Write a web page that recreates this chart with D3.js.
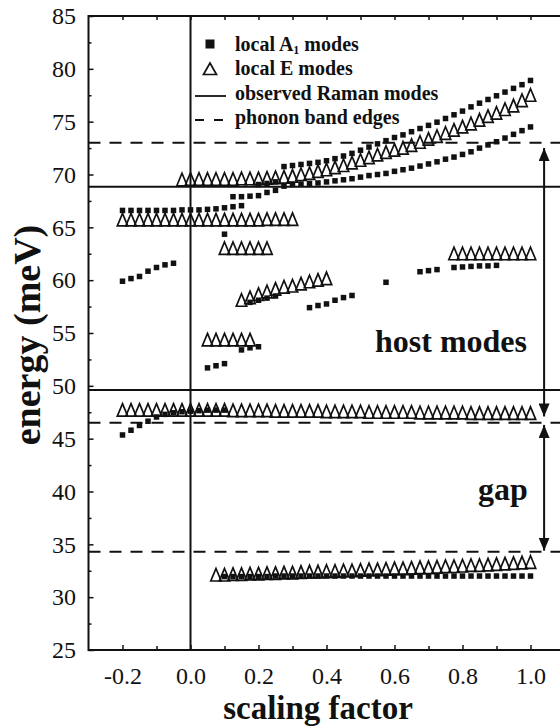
<!DOCTYPE html>
<html>
<head>
<meta charset="utf-8">
<script src="https://cdn.jsdelivr.net/npm/d3@7"></script>
<style>
  body { margin: 0; background: #fff; }
  svg { display: block; }
  text { font-family: "Liberation Serif", "Times New Roman", serif; fill: #111; }
</style>
</head>
<body>
<div id="viz"></div>
<script>
// ---- data: [scaling factor, energy meV] ----
const a1Top = [[0.2,69.05],[0.225,69.15],[0.25,69.3],[0.275,70.75],[0.3,70.85],[0.325,70.95],[0.35,71.05],[0.375,71.15],[0.4,71.3],[0.425,71.5],[0.45,71.75],[0.475,72.0],[0.5,72.3],[0.525,72.6],[0.55,72.9],[0.575,73.2],[0.6,73.5],[0.625,73.75],[0.65,74.05],[0.675,74.35],[0.7,74.65],[0.725,74.95],[0.75,75.3],[0.775,75.65],[0.8,76.0],[0.825,76.4],[0.85,76.75],[0.875,77.1],[0.9,77.45],[0.925,77.8],[0.95,78.15],[0.975,78.5],[1.0,78.9]];
const a1Mid = [[0.125,67.9],[0.15,67.9],[0.175,67.95],[0.2,68.0],[0.225,68.3],[0.25,68.5],[0.275,68.9],[0.3,69.05],[0.325,69.1],[0.35,69.15],[0.375,69.2],[0.4,69.3],[0.425,69.4],[0.45,69.5],[0.475,69.6],[0.5,69.75],[0.525,69.9],[0.55,70.0],[0.575,70.1],[0.6,70.3],[0.625,70.45],[0.65,70.6],[0.675,70.8],[0.7,71.0],[0.725,71.2],[0.75,71.45],[0.775,71.65],[0.8,71.9],[0.825,72.15],[0.85,72.5],[0.875,72.8],[0.9,73.1],[0.925,73.45],[0.95,73.8],[0.975,74.15],[1.0,74.5]];
const a1Left66 = [[-0.2,66.6],[-0.175,66.6],[-0.15,66.6],[-0.125,66.6],[-0.1,66.6],[-0.075,66.6],[-0.05,66.6],[-0.025,66.65],[0,66.65],[0.025,66.65],[0.05,66.7],[0.075,66.75],[0.1,66.85],[0.125,66.95],[0.15,67.05]];
const a1Single64 = [[0.1,64.35]];
const a1Left60 = [[-0.2,59.9],[-0.175,60.15],[-0.15,60.35],[-0.125,60.85],[-0.1,61.2],[-0.075,61.45],[-0.05,61.6]];
const a1Low52 = [[0.05,51.7],[0.075,51.9],[0.1,52.1]];
const a1Low53 = [[0.15,53.4],[0.175,53.6],[0.2,53.7]];
const a1Mid58 = [[0.175,57.9],[0.2,58.1],[0.225,58.3],[0.25,58.5]];
const a1Mid57 = [[0.35,57.4],[0.375,57.6],[0.4,57.75],[0.425,58.1],[0.45,58.35],[0.475,58.55]];
const a1Single60 = [[0.575,59.8]];
const a1Right61 = [[0.675,60.8],[0.7,60.9],[0.725,61.0]];
const a1Right615 = [[0.775,61.2],[0.8,61.25],[0.825,61.3],[0.85,61.35],[0.875,61.35],[0.9,61.4]];
const a1Gap = [[-0.2,45.35],[-0.175,45.8],[-0.15,46.25],[-0.125,46.65],[-0.1,47.05],[-0.075,47.3],[-0.05,47.45],[-0.025,47.55],[0,47.6],[0.025,47.65],[0.05,47.7],[0.075,47.7],[0.1,47.7]];
const a1Bottom = [[0.1,31.95],[0.125,31.95],[0.15,31.95],[0.175,31.95],[0.2,31.95],[0.225,31.95],[0.25,32.0],[0.275,32.0],[0.3,32.0],[0.325,32.0],[0.35,32.0],[0.375,32.0],[0.4,32.0],[0.425,32.0],[0.45,32.0],[0.475,32.0],[0.5,32.0],[0.525,32.0],[0.55,32.0],[0.575,32.0],[0.6,32.0],[0.625,32.0],[0.65,32.0],[0.675,32.0],[0.7,32.0],[0.725,32.0],[0.75,32.0],[0.775,32.0],[0.8,32.0],[0.825,32.0],[0.85,32.0],[0.875,32.0],[0.9,32.0],[0.925,32.0],[0.95,32.0],[0.975,32.0],[1.0,32.0]];

const eTop = [[-0.025,69.5],[0,69.55],[0.025,69.55],[0.05,69.55],[0.075,69.55],[0.1,69.55],[0.125,69.55],[0.15,69.6],[0.175,69.6],[0.2,69.6],[0.225,69.65],[0.25,69.7],[0.275,69.75],[0.3,69.85],[0.325,70.0],[0.35,70.1],[0.375,70.3],[0.4,70.45],[0.425,70.65],[0.45,70.85],[0.475,71.1],[0.5,71.35],[0.525,71.6],[0.55,71.85],[0.575,72.1],[0.6,72.3],[0.625,72.5],[0.65,72.75],[0.675,73.05],[0.7,73.35],[0.725,73.6],[0.75,73.9],[0.775,74.2],[0.8,74.5],[0.825,74.8],[0.85,75.15],[0.875,75.5],[0.9,75.8],[0.925,76.15],[0.95,76.5],[0.975,77.0],[1.0,77.5]];
const e66 = [[-0.2,65.7],[-0.175,65.7],[-0.15,65.7],[-0.125,65.7],[-0.1,65.7],[-0.075,65.7],[-0.05,65.7],[-0.025,65.7],[0,65.7],[0.025,65.7],[0.05,65.7],[0.075,65.7],[0.1,65.7],[0.125,65.7],[0.15,65.7],[0.175,65.7],[0.2,65.7],[0.225,65.75],[0.25,65.75],[0.275,65.75],[0.3,65.75]];
const e63 = [[0.1,63.0],[0.125,63.0],[0.15,63.0],[0.175,63.0],[0.2,63.0],[0.225,63.0]];
const e58 = [[0.15,58.1],[0.175,58.35],[0.2,58.65],[0.225,58.9],[0.25,59.15],[0.275,59.35],[0.3,59.45],[0.325,59.65],[0.35,59.85],[0.375,60.0],[0.4,60.15]];
const e54 = [[0.05,54.35],[0.075,54.35],[0.1,54.35],[0.125,54.35],[0.15,54.35],[0.175,54.35]];
const e62 = [[0.775,62.5],[0.8,62.5],[0.825,62.5],[0.85,62.5],[0.875,62.5],[0.9,62.5],[0.925,62.5],[0.95,62.5],[0.975,62.5],[1.0,62.5]];
const e47 = [[-0.2,47.7],[-0.175,47.7],[-0.15,47.7],[-0.125,47.7],[-0.1,47.7],[-0.075,47.7],[-0.05,47.7],[-0.025,47.7],[0,47.7],[0.025,47.7],[0.05,47.7],[0.075,47.7],[0.1,47.7],[0.125,47.65],[0.15,47.65],[0.175,47.65],[0.2,47.65],[0.225,47.65],[0.25,47.6],[0.275,47.6],[0.3,47.6],[0.325,47.6],[0.35,47.6],[0.375,47.6],[0.4,47.55],[0.425,47.55],[0.45,47.55],[0.475,47.55],[0.5,47.55],[0.525,47.5],[0.55,47.5],[0.575,47.5],[0.6,47.5],[0.625,47.5],[0.65,47.5],[0.675,47.45],[0.7,47.45],[0.725,47.45],[0.75,47.45],[0.775,47.45],[0.8,47.45],[0.825,47.4],[0.85,47.4],[0.875,47.4],[0.9,47.4],[0.925,47.4],[0.95,47.4],[0.975,47.4],[1.0,47.4]];
const eBottom = [[0.075,32.1],[0.1,32.1],[0.125,32.15],[0.15,32.15],[0.175,32.2],[0.2,32.2],[0.225,32.25],[0.25,32.25],[0.275,32.3],[0.3,32.3],[0.325,32.35],[0.35,32.4],[0.375,32.4],[0.4,32.45],[0.425,32.45],[0.45,32.5],[0.475,32.5],[0.5,32.55],[0.525,32.6],[0.55,32.6],[0.575,32.65],[0.6,32.7],[0.625,32.7],[0.65,32.75],[0.675,32.8],[0.7,32.8],[0.725,32.85],[0.75,32.9],[0.775,32.9],[0.8,32.95],[0.825,33.0],[0.85,33.0],[0.875,33.05],[0.9,33.1],[0.925,33.15],[0.95,33.2],[0.975,33.25],[1.0,33.3]];

const ramanModes = [68.85, 49.6];        // solid lines
const bandEdges = [73.0, 46.5, 34.3];    // dashed lines
const arrowX = 1.04;
const xTickLabels = [-0.2, 0.0, 0.2, 0.4, 0.6, 0.8, 1.0];
const xTickMinor = [-0.1, 0.1, 0.3, 0.5, 0.7, 0.9];
const yTickLabels = [25, 30, 35, 40, 45, 50, 55, 60, 65, 70, 75, 80, 85];
const yTickMinor = [27.5, 32.5, 37.5, 42.5, 47.5, 52.5, 57.5, 62.5, 67.5, 72.5, 77.5, 82.5];

const a1Series = [a1Top, a1Mid, a1Left66, a1Single64, a1Left60, a1Low52, a1Low53, a1Mid58,
  a1Mid57, a1Single60, a1Right61, a1Right615, a1Gap, a1Bottom];
const eSeries = [eTop, e66, e63, e58, e54, e62, e47, eBottom];

const w = 560, h = 728;
const svg = d3.select("#viz").append("svg")
  .attr("width", w).attr("height", h)
  .attr("viewBox", "0 0 560 728");

const x = d3.scaleLinear().domain([-0.3, 1.1]).range([88.5, 564.5]);
const y = d3.scaleLinear().domain([25, 85]).range([650, 16]);
const L = x(-0.3), R = x(1.1), T = y(85), B = y(25);

// axes with inward ticks
const fmt = d => d.toFixed(1);
const ax = (g, axis) => {
  g.call(axis);
  g.attr("font-family", "Liberation Serif").attr("font-size", 24);
  g.select(".domain").remove();
  g.selectAll(".tick line").attr("stroke", "#111").attr("stroke-width", 1.5);
};
svg.append("g").attr("transform", `translate(0,${B})`)
  .call(g => ax(g, d3.axisBottom(x).tickValues(xTickLabels).tickFormat(fmt).tickSize(-5).tickPadding(17)));
svg.append("g").attr("transform", `translate(0,${B})`)
  .call(g => ax(g, d3.axisBottom(x).tickValues(xTickMinor).tickFormat("").tickSize(-4)));
svg.append("g").attr("transform", `translate(0,${T})`)
  .call(g => ax(g, d3.axisTop(x).tickValues(xTickLabels.concat(xTickMinor)).tickFormat("").tickSize(-4)));
svg.append("g").attr("transform", `translate(${L},0)`)
  .call(g => ax(g, d3.axisLeft(y).tickValues(yTickLabels).tickSize(-5).tickPadding(12.5)));
svg.append("g").attr("transform", `translate(${L},0)`)
  .call(g => ax(g, d3.axisLeft(y).tickValues(yTickMinor).tickFormat("").tickSize(-3)));
svg.append("g").attr("transform", `translate(${R},0)`)
  .call(g => ax(g, d3.axisRight(y).tickValues(yTickLabels.concat(yTickMinor)).tickFormat("").tickSize(-4)));

// frame
svg.append("rect").attr("x", L).attr("y", T).attr("width", R - L).attr("height", B - T)
  .attr("fill", "none").attr("stroke", "#111").attr("stroke-width", 2);

// vertical line at 0
svg.append("line").attr("x1", x(0)).attr("x2", x(0)).attr("y1", T).attr("y2", B)
  .attr("stroke", "#111").attr("stroke-width", 2);

svg.selectAll(".raman").data(ramanModes).enter().append("line")
  .attr("x1", L).attr("x2", w).attr("y1", d => y(d)).attr("y2", d => y(d))
  .attr("stroke", "#111").attr("stroke-width", 2);
svg.selectAll(".edge").data(bandEdges).enter().append("line")
  .attr("x1", L).attr("x2", w).attr("y1", d => y(d)).attr("y2", d => y(d))
  .attr("stroke", "#111").attr("stroke-width", 2).attr("stroke-dasharray", "12,9");

// arrows
const defs = svg.append("defs");
defs.append("marker").attr("id", "ah").attr("viewBox", "0 0 10 10")
  .attr("refX", 10).attr("refY", 5).attr("markerWidth", 13).attr("markerHeight", 11)
  .attr("markerUnits", "userSpaceOnUse").attr("orient", "auto-start-reverse")
  .attr("preserveAspectRatio", "none")
  .append("path").attr("d", "M0,0 L10,5 L0,10 Z").attr("fill", "#111");
const arrows = [[bandEdges[0] - 0.5, bandEdges[1] + 0.6], [bandEdges[1] - 0.2, bandEdges[2] + 0.1]];
svg.selectAll(".arrow").data(arrows).enter().append("line")
  .attr("x1", x(arrowX)).attr("x2", x(arrowX))
  .attr("y1", d => y(d[0])).attr("y2", d => y(d[1]))
  .attr("stroke", "#111").attr("stroke-width", 2)
  .attr("marker-start", "url(#ah)").attr("marker-end", "url(#ah)");

// E modes: open triangles
const tri = "M0,-6.5 L5.2,6 L-5.2,6 Z";
eSeries.forEach(s => {
  svg.append("g").selectAll("path").data(s).enter().append("path")
    .attr("d", tri)
    .attr("transform", d => `translate(${x(d[0])},${y(d[1])})`)
    .attr("fill", "none").attr("stroke", "#111").attr("stroke-width", 1.7);
});
// A1 modes: filled squares
a1Series.forEach(s => {
  svg.append("g").selectAll("rect").data(s).enter().append("rect")
    .attr("x", d => x(d[0]) - 2.75).attr("y", d => y(d[1]) - 2.75)
    .attr("width", 5.5).attr("height", 5.5).attr("fill", "#111");
});

// annotations
svg.append("text").attr("x", 375).attr("y", 352).attr("font-size", 32).attr("font-weight", "bold").text("host modes");
svg.append("text").attr("x", 478).attr("y", 500).attr("font-size", 32).attr("font-weight", "bold").text("gap");

// axis titles
svg.append("text").attr("x", 318).attr("y", 719).attr("text-anchor", "middle")
  .attr("font-size", 33).attr("font-weight", "bold").text("scaling factor");
svg.append("text").attr("transform", "translate(40,335) rotate(-90)").attr("text-anchor", "middle")
  .attr("font-size", 38).attr("font-weight", "bold").text("energy (meV)");

// legend
const lg = svg.append("g").attr("font-size", 20).attr("font-weight", "bold");
lg.append("rect").attr("x", 205.5).attr("y", 39.5).attr("width", 9).attr("height", 9).attr("fill", "#111");
const t1 = lg.append("text").attr("x", 235).attr("y", 51);
t1.append("tspan").text("local A");
t1.append("tspan").attr("font-size", 12).attr("dy", 3).text("1");
t1.append("tspan").attr("dy", -3).text(" modes");
lg.append("path").attr("d", "M210,63 L216.5,74.5 L203.5,74.5 Z").attr("fill", "none").attr("stroke", "#111").attr("stroke-width", 1.7);
lg.append("text").attr("x", 235).attr("y", 75).text("local E modes");
lg.append("line").attr("x1", 195).attr("x2", 226).attr("y1", 96).attr("y2", 96).attr("stroke", "#111").attr("stroke-width", 1.8);
lg.append("text").attr("x", 235).attr("y", 100).text("observed Raman modes");
lg.append("line").attr("x1", 195).attr("x2", 226).attr("y1", 120).attr("y2", 120).attr("stroke", "#111").attr("stroke-width", 1.8).attr("stroke-dasharray", "9,10");
lg.append("text").attr("x", 235).attr("y", 124).text("phonon band edges");
</script>
</body>
</html>
